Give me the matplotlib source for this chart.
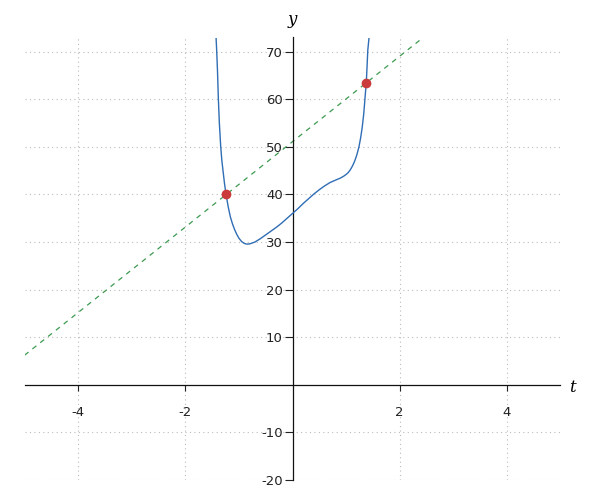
import numpy as np
import matplotlib.pyplot as plt

# curve points
curve_t = [-1.427, -1.414, -1.40, -1.384, -1.365, -1.34, -1.32, -1.297, -1.27, -1.24,
           -1.20, -1.16, -1.12, -1.08, -1.04, -1.00, -0.95, -0.90, -0.85, -0.80,
           -0.75, -0.70, -0.65, -0.60, -0.55, -0.50, -0.40, -0.30, -0.20, -0.10,
           0.0, 0.1, 0.2, 0.3, 0.4, 0.5, 0.6, 0.7, 0.8, 0.886,
           0.95, 1.00, 1.04, 1.08, 1.12, 1.16, 1.20, 1.24, 1.27, 1.30,
           1.33, 1.355, 1.377, 1.39, 1.405, 1.433]
curve_y = [73.1, 70.0, 66.0, 60.2, 55.0, 50.1, 47.3, 45.0, 42.4, 40.0,
           37.4, 35.3, 33.8, 32.6, 31.6, 30.8, 30.1, 29.7, 29.55, 29.6,
           29.8, 30.0, 30.35, 30.7, 31.1, 31.5, 32.3, 33.1, 34.0, 35.0,
           36.0, 37.0, 38.1, 39.1, 40.1, 41.0, 41.8, 42.5, 43.0, 43.4,
           43.8, 44.2, 44.6, 45.2, 46.0, 47.0, 48.3, 50.0, 51.8, 54.0,
           57.0, 60.5, 63.5, 66.5, 70.3, 73.5]

# dashed line and intersection points
line_t = [-5, 5]
line_y = [6.2, 96.0]
pts_t = [-1.24, 1.377]
pts_y = [40.0, 63.5]

xticks = [-4, -2, 2, 4]
yticks = [-20, -10, 10, 20, 30, 40, 50, 60, 70]

fig = plt.figure(figsize=(6, 5), dpi=100)
ax = fig.add_axes([0.041, 0.0404, 0.893, 0.8846])

ax.plot(line_t, line_y, color='#3c9a50', lw=0.9, dashes=(4, 4), zorder=2)
ax.plot(curve_t, curve_y, color='#2f6db5', lw=1.0, zorder=3,
        solid_joinstyle='round')
ax.plot(pts_t, pts_y, 'o', color='#cc3b3b', ms=6, zorder=4)

ax.set_xlim(-5, 5)
ax.set_ylim(-20, 73)

ax.spines['left'].set_position(('data', 0))
ax.spines['bottom'].set_position(('data', 0))
ax.spines['right'].set_visible(False)
ax.spines['top'].set_visible(False)
for s in ('left', 'bottom'):
    ax.spines[s].set_linewidth(0.9)
    ax.spines[s].set_color('#111111')

ax.set_xticks(xticks)
ax.set_yticks(yticks)
ax.set_xticklabels([str(v) for v in xticks])
ax.set_yticklabels([str(v) for v in yticks])
ax.tick_params(axis='x', direction='out', length=4, width=0.8, pad=11,
               labelsize=9.5, colors='#222222')
ax.tick_params(axis='y', direction='out', length=6, width=0.8, pad=1,
               labelsize=9.5, colors='#222222')

ax.grid(True, color='#bbbbbb', ls=(0, (1, 3)), lw=0.8)
ax.set_axisbelow(True)

fig.text(292 / 600, 1 - 20 / 500, 'y', ha='center', va='center',
         family='DejaVu Serif', style='italic', fontsize=12)
fig.text(572 / 600, 1 - 387 / 500, 't', ha='center', va='center',
         family='DejaVu Serif', style='italic', fontsize=12)

fig.savefig('out.png', dpi=100)
